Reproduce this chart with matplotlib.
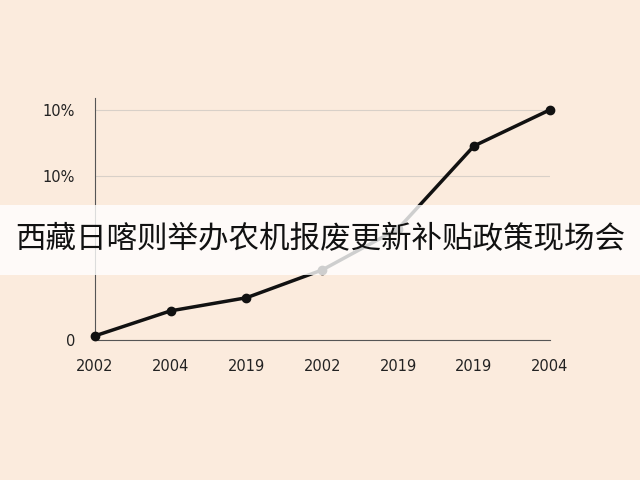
import matplotlib
matplotlib.use("Agg")
import matplotlib.pyplot as plt
from matplotlib.patches import Rectangle

plt.rcParams['font.family'] = ['Noto Sans CJK SC', 'DejaVu Sans']

x_labels = ["2002", "2004", "2019", "2002", "2019", "2019", "2004"]
values = [1.7, 12.6, 18.3, 30.4, 48.3, 84.3, 100]
y_ticks = [0, 71.3, 100]
y_tick_labels = ["0", "10%", "10%"]
title = "西藏日喀则举办农机报废更新补贴政策现场会"

bg = "#fbebdd"
fig = plt.figure(figsize=(6.4, 4.8), dpi=100, facecolor=bg)
ax = fig.add_axes([0.148, 0.292, 0.711, 0.503], facecolor=bg)
xs = list(range(len(values)))
ax.plot(xs, values, color="#111111", lw=2.5, marker="o", ms=6, clip_on=False, zorder=3)
ax.set_xlim(0, 6)
ax.set_ylim(0, 105)
ax.set_xticks(xs)
ax.set_xticklabels(x_labels, fontsize=10.5, family=['DejaVu Sans'], color="#222222")
ax.set_yticks(y_ticks)
ax.set_yticklabels(y_tick_labels, fontsize=10.5, family=['DejaVu Sans'], color="#222222")
ax.tick_params(axis='x', length=0, pad=14)
ax.tick_params(axis='y', length=0, pad=14)
ax.grid(axis='y', color="#d8d0c8", lw=0.8)
for s in ["top", "right"]:
    ax.spines[s].set_visible(False)
ax.spines["left"].set_color("#555555")
ax.spines["bottom"].set_color("#555555")

fig.patches.append(Rectangle((0, 0.427), 1, 0.146, transform=fig.transFigure,
                             facecolor="white", alpha=0.8, edgecolor="none", zorder=5))
fig.text(0.5, 0.5, title, ha="center", va="center", fontsize=22, color="#111111", zorder=6)
fig.savefig("out.png", dpi=100, facecolor=bg)
